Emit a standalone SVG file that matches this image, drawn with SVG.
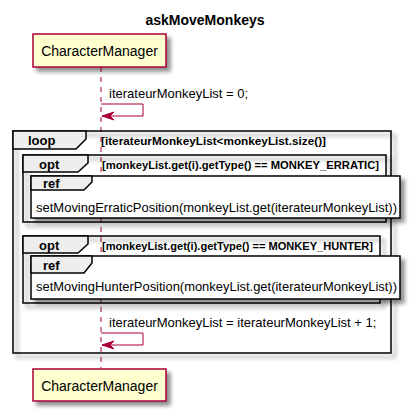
<svg xmlns="http://www.w3.org/2000/svg" width="410" height="410" viewBox="0 0 410 410">
<defs>
<filter id="sh" x="-10%" y="-10%" width="130%" height="140%">
<feGaussianBlur in="SourceAlpha" stdDeviation="2"/>
<feOffset dx="4" dy="4" result="b"/>
<feComponentTransfer><feFuncA type="linear" slope="0.45"/></feComponentTransfer>
<feMerge><feMergeNode/><feMergeNode in="SourceGraphic"/></feMerge>
</filter>
<marker id="ah" markerWidth="14" markerHeight="10" viewBox="0 0 14 10" refX="13" refY="5" orient="auto" markerUnits="userSpaceOnUse">
<polygon points="1,1 13,5 1,9 5,5" fill="#A80036" stroke="#A80036" stroke-width="1"/>
</marker>
</defs>
<style>
.t{font-family:"Liberation Sans",Arial,sans-serif;fill:#000}
.part{fill:#FEFECE;stroke:#A80036;stroke-width:1.5}
.frame{fill:none;stroke:#000;stroke-width:1.5}
.refbox{fill:#fff;stroke:#000;stroke-width:1.5}
.tab{fill:#EEEEEE;stroke:#000;stroke-width:1.5}
.msg{fill:none;stroke:#A80036;stroke-width:1}
.kw{font-size:13px;font-weight:bold}
.cond{font-size:11.5px;font-weight:bold}
.lbl{font-size:13px}
</style>
<text class="t" x="205" y="25" text-anchor="middle" style="font-size:14px;font-weight:bold">askMoveMonkeys</text>

<g id="lifeline">
<line x1="101" y1="67" x2="101" y2="369" stroke="#A80036" stroke-width="1" stroke-dasharray="5,5"/>
</g>

<g id="loop">
<rect class="frame" x="13" y="131" width="378" height="222" filter="url(#sh)"/>
<polygon class="tab" points="13,131 86,131 86,139 76,149 13,149"/>
<text class="t kw" x="28" y="145">loop</text>
<text class="t cond" x="101" y="145" textLength="225" lengthAdjust="spacingAndGlyphs">[iterateurMonkeyList&lt;monkeyList.size()]</text>
</g>

<g id="opt1">
<rect class="frame" x="23" y="155" width="363" height="67" filter="url(#sh)"/>
<polygon class="tab" points="23,155 88,155 88,163 78,172 23,172"/>
<text class="t kw" x="39" y="169">opt</text>
<text class="t cond" x="102" y="169" textLength="277" lengthAdjust="spacingAndGlyphs">[monkeyList.get(i).getType() == MONKEY_ERRATIC]</text>
</g>

<g id="ref1">
<rect class="refbox" x="31" y="176" width="369" height="42" filter="url(#sh)"/>
<polygon class="tab" points="31,176 92,176 92,182 84,190 31,190"/>
<text class="t kw" x="43" y="188">ref</text>
<text class="t lbl" x="36" y="212" textLength="361" lengthAdjust="spacingAndGlyphs">setMovingErraticPosition(monkeyList.get(iterateurMonkeyList))</text>
</g>

<g id="opt2">
<rect class="frame" x="23" y="236" width="357" height="67" filter="url(#sh)"/>
<polygon class="tab" points="23,236 88,236 88,244 78,253 23,253"/>
<text class="t kw" x="39" y="250">opt</text>
<text class="t cond" x="102" y="250" textLength="271" lengthAdjust="spacingAndGlyphs">[monkeyList.get(i).getType() == MONKEY_HUNTER]</text>
</g>

<g id="ref2">
<rect class="refbox" x="31" y="256" width="369" height="43" filter="url(#sh)"/>
<polygon class="tab" points="31,256 92,256 92,263 84,273 31,273"/>
<text class="t kw" x="43" y="270">ref</text>
<text class="t lbl" x="36" y="291" textLength="361" lengthAdjust="spacingAndGlyphs">setMovingHunterPosition(monkeyList.get(iterateurMonkeyList))</text>
</g>

<g id="connectors">
<polyline class="msg" points="101,104 143,104 143,116 102,116" marker-end="url(#ah)"/>
<text class="t lbl" x="109" y="98">iterateurMonkeyList = 0;</text>
<polyline class="msg" points="101,333 143,333 143,345 102,345" marker-end="url(#ah)"/>
<text class="t lbl" x="109" y="327">iterateurMonkeyList = iterateurMonkeyList + 1;</text>
</g>

<g id="CharacterManager_top">
<rect class="part" x="33" y="34" width="133" height="33" filter="url(#sh)"/>
<text class="t" x="99.5" y="56" text-anchor="middle" style="font-size:14px">CharacterManager</text>
</g>
<g id="CharacterManager_bottom">
<rect class="part" x="33" y="369" width="133" height="32" filter="url(#sh)"/>
<text class="t" x="99.5" y="391" text-anchor="middle" style="font-size:14px">CharacterManager</text>
</g>
</svg>
